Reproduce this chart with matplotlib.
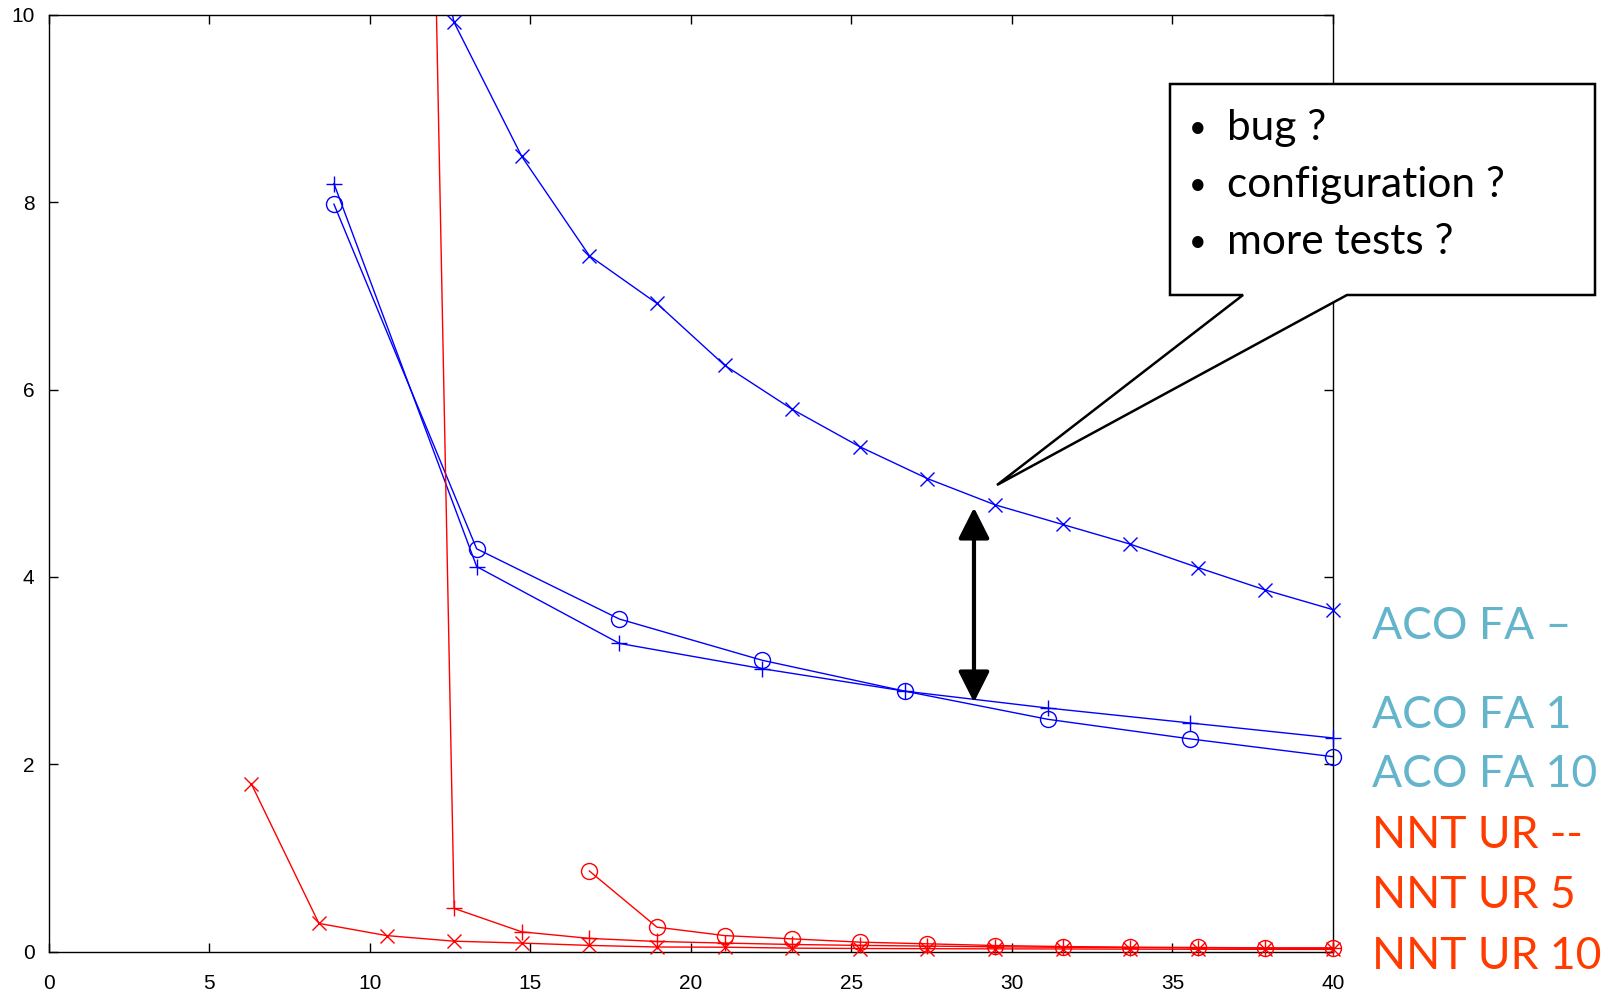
import matplotlib
matplotlib.use("Agg")
import matplotlib.pyplot as plt
from matplotlib.patches import Polygon, FancyArrowPatch
import numpy as np

# ---------------- data ----------------
x19 = [40 * k / 19 for k in range(3, 20)]   # 6.32 ... 40
x9 = [40 * k / 9 for k in range(2, 10)]     # 8.89 ... 40

aco_fa_dash_x = x19[2:]
aco_fa_dash_y = [13.1, 9.92, 8.49, 7.43, 6.92, 6.26, 5.79, 5.39, 5.05, 4.77,
                 4.56, 4.35, 4.10, 3.86, 3.65]

aco_fa1_x = x9
aco_fa1_y = [8.20, 4.11, 3.29, 3.02, 2.78, 2.60, 2.44, 2.28]

aco_fa10_x = x9
aco_fa10_y = [7.98, 4.30, 3.55, 3.11, 2.78, 2.48, 2.27, 2.08]

nnt_dash_x = x19
nnt_dash_y = [1.79, 0.30, 0.17, 0.11, 0.09, 0.065, 0.048, 0.046, 0.036, 0.032,
              0.030, 0.028, 0.027, 0.025, 0.024, 0.023, 0.022]

nnt5_x = x19[2:]
nnt5_y = [37.0, 0.46, 0.21, 0.14, 0.107, 0.09, 0.075, 0.065, 0.058, 0.050,
          0.045, 0.042, 0.038, 0.035, 0.033]

nnt10_x = x19[5:]
nnt10_y = [0.86, 0.26, 0.17, 0.135, 0.10, 0.082, 0.064, 0.053, 0.046, 0.043,
           0.039, 0.039]

legend_labels = ["ACO FA \u2013", "ACO FA 1", "ACO FA 10",
                 "NNT UR --", "NNT UR 5", "NNT UR 10"]
callout_lines = ["bug ?", "configuration ?", "more tests ?"]

x_ticks = [0, 5, 10, 15, 20, 25, 30, 35, 40]
y_ticks = [0, 2, 4, 6, 8, 10]

# ---------------- figure ----------------
W, H = 1618, 994
fig = plt.figure(figsize=(W / 100, H / 100), dpi=100)
ax = fig.add_axes([48.5 / W, 1 - 951.5 / H, (1333 - 48.5) / W, (951.5 - 15) / H])

BLUE = "#0000ff"
RED = "#ff0000"
series = [
    (aco_fa_dash_x, aco_fa_dash_y, BLUE, "x"),
    (aco_fa1_x, aco_fa1_y, BLUE, "+"),
    (aco_fa10_x, aco_fa10_y, BLUE, "o"),
    (nnt_dash_x, nnt_dash_y, RED, "x"),
    (nnt5_x, nnt5_y, RED, "+"),
    (nnt10_x, nnt10_y, RED, "o"),
]
msize = {"x": 10.5, "+": 12, "o": 11.5}
for xs, ys, c, m in series:
    xs = np.asarray(xs); ys = np.asarray(ys)
    ax.plot(xs, ys, color=c, lw=1.0, zorder=2)
    vis = ys <= 10
    ax.plot(xs[vis], ys[vis], ls="none", marker=m, ms=msize[m], mew=1.0,
            mfc="none", mec=c, clip_on=False, zorder=3)

ax.set_xlim(0, 40)
ax.set_ylim(0, 10)
ax.set_xticks(x_ticks)
ax.set_yticks(y_ticks)
ax.set_xticklabels([str(t) for t in x_ticks], fontsize=15, family="Liberation Sans")
ax.set_yticklabels([str(t) for t in y_ticks], fontsize=15, family="Liberation Sans")
ax.tick_params(axis="both", direction="in", length=6.5, width=1,
               top=True, right=True)
ax.tick_params(axis="x", pad=16)
ax.tick_params(axis="y", pad=10)
for s in ax.spines.values():
    s.set_linewidth(1.0)

# double arrow
arr = FancyArrowPatch((28.82, 2.66), (28.82, 4.74), arrowstyle="<|-|>,head_length=1.35,head_width=0.68",
                      mutation_scale=14, color="black", lw=3, zorder=5,
                      shrinkA=0, shrinkB=0)
ax.add_patch(arr)

# callout
pts_px = [(1170, 84), (1595, 84), (1595, 295), (1347, 295), (997, 485),
          (1243, 295), (1170, 295)]
poly = Polygon([(px / W, 1 - py / H) for px, py in pts_px], closed=True,
               transform=fig.transFigure, facecolor="white", edgecolor="black",
               lw=1.8, zorder=10)
fig.add_artist(poly)
for i, line in enumerate(callout_lines):
    yb = 140 + 57 * i
    fig.text(1198 / W, 1 - (yb - 12) / H, "\u2022", fontsize=22, family="Lato",
             ha="center", va="center", zorder=11)
    fig.text(1227 / W, 1 - yb / H, line, fontsize=30.5, family="Lato",
             ha="left", va="baseline", zorder=11)

# right-side labels
ACO_C = "#64b5cb"
NNT_C = "#ff3b00"
baselines = [639, 728, 787, 848, 908, 969]
for lab, yb in zip(legend_labels, baselines):
    col = ACO_C if lab.startswith("ACO") else NNT_C
    fig.text(1372 / W, 1 - yb / H, lab, fontsize=32, family="Lato",
             color=col, ha="left", va="baseline")

fig.savefig("out.png", dpi=100)
